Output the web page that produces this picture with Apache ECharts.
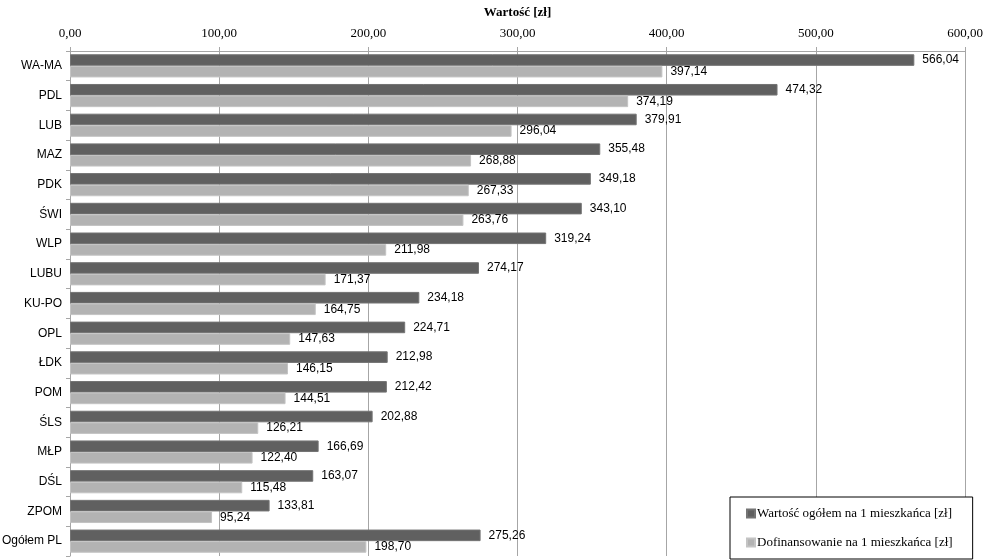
<!DOCTYPE html>
<html>
<head>
<meta charset="utf-8">
<script src="https://cdn.jsdelivr.net/npm/echarts@6/dist/echarts.min.js"></script>
<style>html,body{margin:0;padding:0;background:#fff}#c{width:987px;height:560px}</style>
</head>
<body>
<div id="c"></div>
<script>
const categories = ['WA-MA','PDL','LUB','MAZ','PDK','ŚWI','WLP','LUBU','KU-PO','OPL','ŁDK','POM','ŚLS','MŁP','DŚL','ZPOM','Ogółem PL'];
const totalValues = [566.04,474.32,379.91,355.48,349.18,343.10,319.24,274.17,234.18,224.71,212.98,212.42,202.88,166.69,163.07,133.81,275.26];
const subsidyValues = [397.14,374.19,296.04,268.88,267.33,263.76,211.98,171.37,164.75,147.63,146.15,144.51,126.21,122.40,115.48,95.24,198.70];
const seriesNames = ['Wartość ogółem na 1 mieszkańca [zł]','Dofinansowanie na 1 mieszkańca [zł]'];
const axisTitle = 'Wartość [zł]';

const fmt = v => Number(v).toFixed(2).replace('.', ',');
const chart = echarts.init(document.getElementById('c'));
const labelStyle = {
  show: true, position: 'right', distance: 8,
  fontFamily: 'Liberation Sans, Arial, sans-serif', fontSize: 12, color: '#000',
  formatter: p => fmt(p.value)
};
chart.setOption({
  animation: false,
  grid: { left: 70, right: 22, top: 51, bottom: 4, outerBoundsMode: 'none' },
  xAxis: {
    type: 'value', position: 'top', min: 0, max: 600, interval: 100,
    name: axisTitle, nameLocation: 'middle', nameGap: 32,
    nameTextStyle: { fontFamily: 'Liberation Serif, Times New Roman, serif', fontWeight: 'bold', fontSize: 13, color: '#000' },
    axisLine: { show: true, lineStyle: { color: '#a6a6a6', width: 1 } },
    axisTick: { show: true, length: 4, lineStyle: { color: '#a6a6a6' } },
    axisLabel: { formatter: v => fmt(v), fontFamily: 'Liberation Serif, Times New Roman, serif', fontSize: 13, color: '#000', margin: 11 },
    splitLine: { show: true, lineStyle: { color: '#a6a6a6', width: 1 } }
  },
  yAxis: {
    type: 'category', data: categories, inverse: true,
    axisLine: { show: true, lineStyle: { color: '#a6a6a6', width: 1 } },
    axisTick: { show: true, length: 4, lineStyle: { color: '#a6a6a6' } },
    axisLabel: { fontFamily: 'Liberation Sans, Arial, sans-serif', fontSize: 12, color: '#000', margin: 8 }
  },
  legend: {
    orient: 'vertical', left: 730, top: 497,
    backgroundColor: '#fff', borderColor: '#000', borderWidth: 1,
    padding: [10, 20, 10, 16], itemGap: 16,
    itemWidth: 8, itemHeight: 8, icon: 'rect',
    textStyle: { fontFamily: 'Liberation Serif, Times New Roman, serif', fontSize: 13, color: '#000', padding: [0, 0, 0, -3] },
    data: seriesNames
  },
  series: [
    { name: seriesNames[0], type: 'bar', data: totalValues, barGap: '0%', barCategoryGap: '22%',
      itemStyle: { color: '#606060', borderColor: '#747474', borderWidth: 1 }, label: labelStyle },
    { name: seriesNames[1], type: 'bar', data: subsidyValues,
      itemStyle: { color: '#b3b3b3', borderColor: '#c4c4c4', borderWidth: 1 }, label: labelStyle }
  ]
});
</script>
</body>
</html>
